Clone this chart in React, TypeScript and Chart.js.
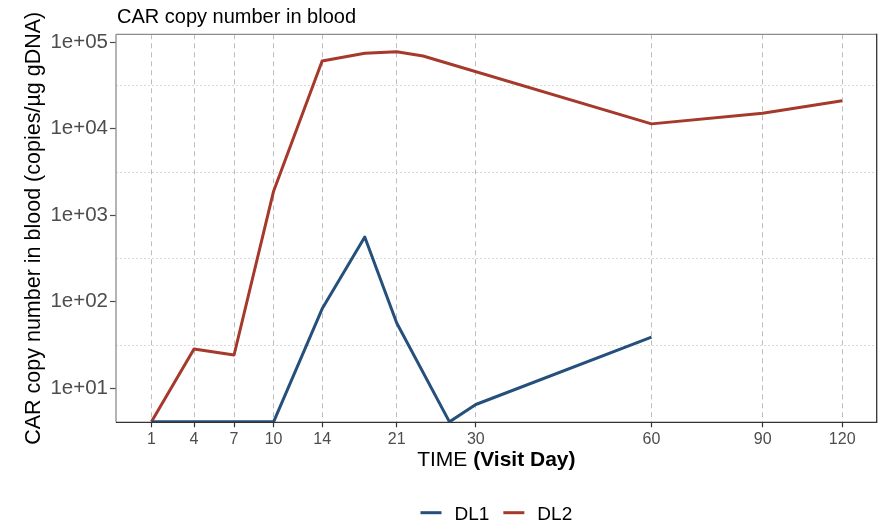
import React, { useEffect, useRef } from "react";
import { Chart, registerables, LinearScale } from "chart.js";

Chart.register(...registerables);

// ---------- data ----------
const TITLE = "CAR copy number in blood";
const Y_TITLE = "CAR copy number in blood (copies/µg gDNA)";
const X_TITLE_PLAIN = "TIME ";
const X_TITLE_BOLD = "(Visit Day)";

const SERIES_NAMES = ["DL1", "DL2"];
const SERIES_COLORS = ["#25507b", "#a5392b"];

const DL1_DAYS = [1, 4, 7, 10, 14, 18, 21, 27, 30, 60];
const DL1_VALUES = [4.1, 4.1, 4.1, 4.1, 83, 560, 57, 4.1, 6.5, 39];

const DL2_DAYS = [1, 4, 7, 10, 14, 18, 21, 24, 60, 90, 120];
const DL2_VALUES = [4.1, 28.5, 24.3, 1900, 60800, 74600, 77900, 69500, 11400, 15100, 21100];

// visit-day axis: tick days and their relative spacing on the (non-linear) axis
const X_TICKS = [1, 4, 7, 10, 14, 21, 30, 60, 90, 120];
const X_TICK_STOPS = [0, 42.5, 82.5, 122, 170.5, 245, 324, 499.5, 610.5, 690];
const X_MIN = -1.5;
const X_MAX = 133;

// log axis
const Y_MIN = 4.05;
const Y_MAX = 123700;
const Y_TICK_EXPONENTS = [1, 1.5, 2, 2.5, 3, 3.5, 4, 4.5, 5];

const FONT = "'Liberation Sans', Arial, sans-serif";

// ---------- custom visit-day scale ----------
function dayToUnit(d: number): number {
  const t = X_TICKS, s = X_TICK_STOPS, n = t.length;
  let i = 0;
  if (d <= t[0]) i = 0;
  else if (d >= t[n - 1]) i = n - 2;
  else {
    while (i < n - 2 && d > t[i + 1]) i++;
  }
  return s[i] + ((d - t[i]) * (s[i + 1] - s[i])) / (t[i + 1] - t[i]);
}
function unitToDay(u: number): number {
  const t = X_TICKS, s = X_TICK_STOPS, n = s.length;
  let i = 0;
  if (u <= s[0]) i = 0;
  else if (u >= s[n - 1]) i = n - 2;
  else {
    while (i < n - 2 && u > s[i + 1]) i++;
  }
  return t[i] + ((u - s[i]) * (t[i + 1] - t[i])) / (s[i + 1] - s[i]);
}

class VisitDayScale extends LinearScale {
  static id = "visitday";
  static defaults = {};
  getPixelForValue(value: any) {
    if (value === null || value === undefined || isNaN(value)) return NaN;
    const u0 = dayToUnit(this.min);
    const u1 = dayToUnit(this.max);
    return this.getPixelForDecimal((dayToUnit(value) - u0) / (u1 - u0));
  }
  getValueForPixel(pixel: number) {
    const u0 = dayToUnit(this.min);
    const u1 = dayToUnit(this.max);
    return unitToDay(u0 + this.getDecimalForPixel(pixel) * (u1 - u0));
  }
}
Chart.register(VisitDayScale as any);

const isDecade = (v: number) => {
  const e = Math.log10(v);
  return Math.abs(e - Math.round(e)) < 1e-6;
};

// ---------- decorations (titles, legend, panel border) ----------
const decorPlugin = {
  id: "decor",
  afterDraw(chart: any) {
    const { ctx, chartArea: a } = chart;
    ctx.save();

    const seg = (x1: number, y1: number, x2: number, y2: number) => {
      ctx.beginPath();
      ctx.moveTo(x1, y1);
      ctx.lineTo(x2, y2);
      ctx.stroke();
    };
    // panel border
    ctx.lineWidth = 1.3;
    ctx.strokeStyle = "#8c8c8c";
    seg(a.left, a.top, a.right, a.top);
    seg(a.left, a.top, a.left, a.bottom);
    ctx.strokeStyle = "#333333";
    seg(a.left, a.bottom, a.right + 0.6, a.bottom);
    seg(a.right, a.top - 0.6, a.right, a.bottom);

    // plot title
    ctx.fillStyle = "#000";
    ctx.textAlign = "left";
    ctx.textBaseline = "alphabetic";
    ctx.font = `20px ${FONT}`;
    ctx.fillText(TITLE, a.left + 1, a.top - 11);

    // y-axis title
    ctx.save();
    ctx.translate(39.5, (a.top + a.bottom) / 2);
    ctx.rotate(-Math.PI / 2);
    ctx.textAlign = "center";
    ctx.font = `21.5px ${FONT}`;
    ctx.fillText(Y_TITLE, 0, 0);
    ctx.restore();

    // x-axis title with bold part
    const cx = (a.left + a.right) / 2;
    ctx.font = `21px ${FONT}`;
    const w1 = ctx.measureText(X_TITLE_PLAIN).width;
    ctx.font = `bold 21px ${FONT}`;
    const w2 = ctx.measureText(X_TITLE_BOLD).width;
    const xs = cx - (w1 + w2) / 2;
    const ty = a.bottom + 44;
    ctx.textAlign = "left";
    ctx.font = `21px ${FONT}`;
    ctx.fillText(X_TITLE_PLAIN, xs, ty);
    ctx.font = `bold 21px ${FONT}`;
    ctx.fillText(X_TITLE_BOLD, xs + w1, ty);

    // legend
    const ds = chart.data.datasets;
    ctx.font = `19px ${FONT}`;
    const keyW = 21, keyGap = 13, itemGap = 14;
    const widths = ds.map((d: any) => keyW + keyGap + ctx.measureText(d.label).width);
    const total = widths.reduce((p: number, c: number) => p + c, 0) + itemGap * (ds.length - 1);
    let lx = cx - total / 2;
    const ly = 512.7;
    ds.forEach((d: any, i: number) => {
      ctx.strokeStyle = d.borderColor;
      ctx.lineWidth = 3;
      seg(lx, ly, lx + keyW, ly);
      ctx.fillStyle = "#000";
      ctx.fillText(d.label, lx + keyW + keyGap, ly + 7.3);
      lx += widths[i] + itemGap;
    });

    ctx.restore();
  },
};

export default function App() {
  const ref = useRef<HTMLCanvasElement | null>(null);

  useEffect(() => {
    if (!ref.current) return;
    Chart.defaults.font.family = FONT;
    const chart = new Chart(ref.current, {
      type: "line",
      data: {
        datasets: [
          {
            label: SERIES_NAMES[0],
            data: DL1_DAYS.map((d, i) => ({ x: d, y: DL1_VALUES[i] })),
            borderColor: SERIES_COLORS[0],
            backgroundColor: SERIES_COLORS[0],
            borderWidth: 3,
            pointRadius: 0,
            tension: 0,
            fill: false,
            borderJoinStyle: "round",
          },
          {
            label: SERIES_NAMES[1],
            data: DL2_DAYS.map((d, i) => ({ x: d, y: DL2_VALUES[i] })),
            borderColor: SERIES_COLORS[1],
            backgroundColor: SERIES_COLORS[1],
            borderWidth: 3,
            pointRadius: 0,
            tension: 0,
            fill: false,
            borderJoinStyle: "round",
          },
        ],
      },
      options: {
        animation: false,
        responsive: false,
        devicePixelRatio: 1,
        layout: { padding: { left: 0, top: 34.3, right: 9.3, bottom: 0 } },
        plugins: {
          legend: { display: false },
          title: { display: false },
          tooltip: { enabled: false },
        },
        scales: {
          x: {
            type: "visitday" as any,
            min: X_MIN,
            max: X_MAX,
            afterFit: (s: any) => {
              s.height = 103.7;
            },
            afterBuildTicks: (s: any) => {
              s.ticks = X_TICKS.map((v) => ({ value: v }));
            },
            grid: {
              color: "#bdbdbd",
              lineWidth: 1,
              tickColor: "#333333",
              tickLength: 5,
              tickWidth: 1.2,
            },
            border: { display: false, dash: [5, 4] },
            ticks: {
              autoSkip: false,
              maxRotation: 0,
              color: "#4d4d4d",
              font: { size: 16 },
              padding: 3,
              callback: (v: any) => String(v),
            },
          },
          y: {
            type: "logarithmic",
            min: Y_MIN,
            max: Y_MAX,
            bounds: "data",
            afterFit: (s: any) => {
              s.width = 116;
            },
            afterBuildTicks: (s: any) => {
              s.ticks = Y_TICK_EXPONENTS.map((e) => ({ value: Math.pow(10, e) }));
            },
            grid: {
              color: (c: any) => (c.tick && isDecade(c.tick.value) ? "rgba(0,0,0,0)" : "#d9d9d9"),
              tickColor: (c: any) => (c.tick && isDecade(c.tick.value) ? "#4d4d4d" : "rgba(0,0,0,0)"),
              lineWidth: 1,
              tickLength: 6,
              tickWidth: 1.2,
            },
            border: { display: false, dash: [2, 2] },
            ticks: {
              autoSkip: false,
              color: "#4d4d4d",
              font: { size: 20.5 },
              padding: 2,
              callback: (v: any) => {
                if (!isDecade(v)) return "";
                return "1e+" + String(Math.round(Math.log10(v))).padStart(2, "0");
              },
            },
          },
        },
      } as any,
      plugins: [decorPlugin],
    });
    return () => chart.destroy();
  }, []);

  return (
    <div style={{ position: "fixed", left: 0, top: 0, width: 886, height: 526, background: "#fff" }}>
      <canvas ref={ref} width={886} height={526} style={{ width: 886, height: 526, display: "block" }} />
    </div>
  );
}
